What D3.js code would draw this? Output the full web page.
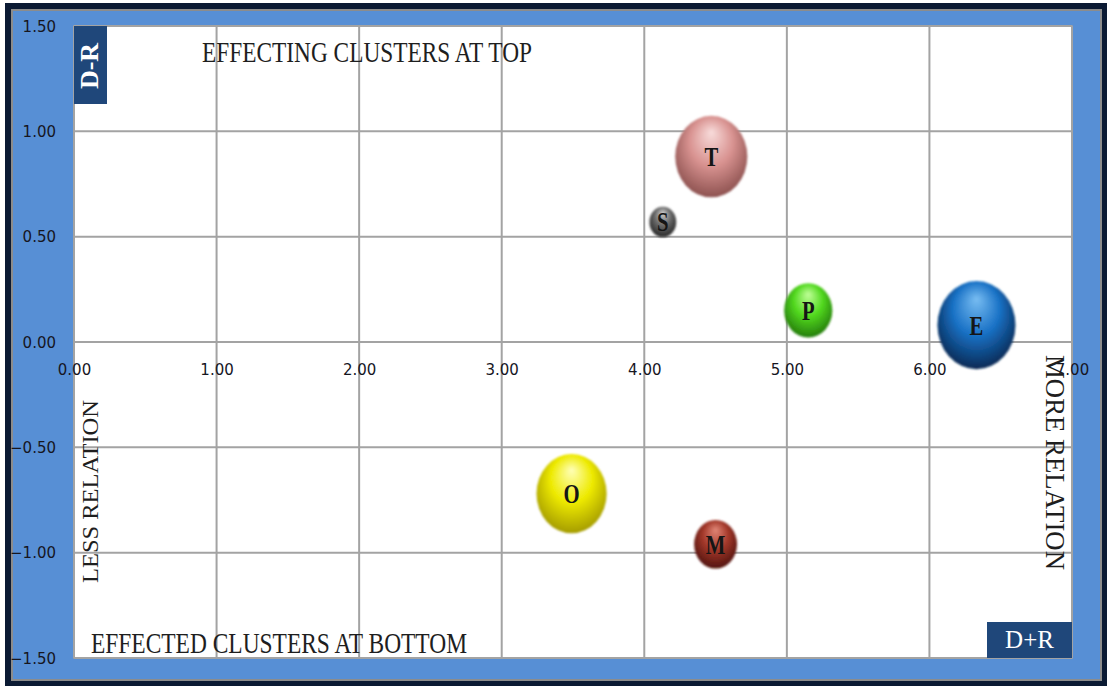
<!DOCTYPE html>
<html><head><meta charset="utf-8">
<script src="https://cdn.jsdelivr.net/npm/d3@7"></script>
<style>html,body{margin:0;padding:0;background:#fff;}svg{display:block;}</style>
</head><body>
<script>
// ---- data ----
const clusters = ["T", "S", "P", "E", "O", "M"];
const dPlusR  = [4.47, 4.13, 5.15, 6.33, 3.49, 4.50];
const dMinusR = [0.88, 0.57, 0.15, 0.08, -0.72, -0.96];
const bubbleSize = [1.30, 0.18, 0.58, 1.52, 1.23, 0.46];
const xTicks = [0, 1, 2, 3, 4, 5, 6, 7];
const yTicks = [-1.5, -1.0, -0.5, 0, 0.5, 1.0, 1.5];
const topNote = "EFFECTING CLUSTERS AT TOP";
const bottomNote = "EFFECTED CLUSTERS AT BOTTOM";
const leftNote = "LESS RELATION";
const rightNote = "MORE RELATION";
const yAxisTitle = "D-R";
const xAxisTitle = "D+R";

// ---- styles ----
const palette = {
  T: ["#f8dcdb", "#d99391", "#8a4f4d"],
  S: ["#d0d0d0", "#6a6a6a", "#262626"],
  P: ["#c0ff98", "#52d91f", "#22780a"],
  E: ["#78bdf2", "#1a72c6", "#06264f"],
  O: ["#ffffb8", "#eeea00", "#a19800"],
  M: ["#e08676", "#a3382a", "#4e120d"]
};

const W = 1107, H = 686;
const svg = d3.select("body").append("svg").attr("width", W).attr("height", H);
const defs = svg.append("defs");

// frame
svg.append("rect").attr("x", 0).attr("y", 0).attr("width", W).attr("height", H).attr("fill", "#fff");
svg.append("rect").attr("x", 5).attr("y", 3).attr("width", W - 5).attr("height", H - 3).attr("fill", "#0b1a33");
svg.append("rect").attr("x", 12).attr("y", 10).attr("width", 1089).attr("height", 670)
  .attr("fill", "#578fd5").attr("stroke", "#8c8c8c").attr("stroke-width", 2);

const x = d3.scaleLinear().domain([0, 7]).range([74, 1072]);
const y = d3.scaleLinear().domain([-1.5, 1.5]).range([658, 26]);
const r = d3.scaleSqrt().domain([0, d3.max(bubbleSize)]).range([0, 39]);

// plot area
svg.append("rect").attr("x", x(0)).attr("y", y(1.5)).attr("width", x(7) - x(0)).attr("height", y(-1.5) - y(1.5))
  .attr("fill", "#fff").attr("stroke", "#a3a3a3").attr("stroke-width", 1.5);

const grid = svg.append("g").attr("stroke", "#a3a3a3").attr("stroke-width", 2);
grid.selectAll("line.h").data(yTicks).join("line").attr("class", "h")
  .attr("x1", x(0)).attr("x2", x(7)).attr("y1", d => y(d)).attr("y2", d => y(d));
grid.selectAll("line.v").data(xTicks).join("line").attr("class", "v")
  .attr("y1", y(1.5)).attr("y2", y(-1.5)).attr("x1", d => x(d)).attr("x2", d => x(d));

// axes via d3 axis generators (lines hidden, labels kept)
const fmt = d3.format(".2f");
const tickFont = "DejaVu Sans, Verdana, sans-serif";
const yAxis = svg.append("g").attr("transform", `translate(${x(0) - 18},0)`)
  .call(d3.axisLeft(y).tickValues(yTicks).tickFormat(fmt).tickSize(0).tickPadding(0));
yAxis.select(".domain").remove();
yAxis.selectAll("text").attr("font-family", tickFont).attr("font-size", 15)
  .attr("fill", "#16161f").attr("dy", "0.35em");

const xAxis = svg.append("g").attr("transform", `translate(0,${y(0) + 22})`)
  .call(d3.axisBottom(x).tickValues(xTicks).tickFormat(fmt).tickSize(0).tickPadding(0));
xAxis.select(".domain").remove();
xAxis.selectAll("text").attr("font-family", tickFont).attr("font-size", 15)
  .attr("fill", "#16161f").attr("dy", "0.71em");

const serif = "Liberation Serif, Times New Roman, serif";

// notes
svg.append("text").attr("x", 202).attr("y", 62).attr("font-family", serif).attr("font-size", 30)
  .attr("fill", "#1e1e1e").attr("textLength", 330).attr("lengthAdjust", "spacingAndGlyphs").text(topNote);
svg.append("text").attr("x", 91).attr("y", 653).attr("font-family", serif).attr("font-size", 30)
  .attr("fill", "#1e1e1e").attr("textLength", 376).attr("lengthAdjust", "spacingAndGlyphs").text(bottomNote);
svg.append("text").attr("transform", "translate(98,583) rotate(-90)").attr("font-family", serif).attr("font-size", 24)
  .attr("fill", "#1e1e1e").attr("textLength", 183).attr("lengthAdjust", "spacingAndGlyphs").text(leftNote);
svg.append("text").attr("transform", "translate(1046,355) rotate(90)").attr("font-family", serif).attr("font-size", 27)
  .attr("fill", "#1e1e1e").attr("textLength", 215).attr("lengthAdjust", "spacingAndGlyphs").text(rightNote);

// axis title boxes
svg.append("rect").attr("x", x(0)).attr("y", y(1.5)).attr("width", 33).attr("height", 78).attr("fill", "#1f477a");
svg.append("text").attr("transform", `translate(${x(0) + 24},${y(1.5) + 40}) rotate(-90)`)
  .attr("text-anchor", "middle").attr("font-family", serif).attr("font-weight", "bold").attr("font-size", 26)
  .attr("fill", "#fff").text(yAxisTitle);
svg.append("rect").attr("x", 987).attr("y", 622).attr("width", x(7) - 987).attr("height", y(-1.5) - 622).attr("fill", "#1f477a");
svg.append("text").attr("x", (987 + x(7)) / 2).attr("y", 648).attr("text-anchor", "middle")
  .attr("font-family", serif).attr("font-size", 25).attr("fill", "#fff").text(xAxisTitle);

// bubbles
const data = clusters.map((c, i) => ({ c, x: dPlusR[i], y: dMinusR[i], s: bubbleSize[i] }));
data.forEach(d => {
  const g = defs.append("radialGradient").attr("id", "g" + d.c)
    .attr("cx", "50%").attr("cy", "42%").attr("r", "60%").attr("fx", "50%").attr("fy", "20%");
  const p = palette[d.c];
  g.append("stop").attr("offset", "0%").attr("stop-color", p[0]);
  g.append("stop").attr("offset", "50%").attr("stop-color", p[1]);
  g.append("stop").attr("offset", "100%").attr("stop-color", p[2]);
});
const blur = defs.append("filter").attr("id", "soft").attr("x", "-10%").attr("y", "-10%").attr("width", "120%").attr("height", "120%");
blur.append("feGaussianBlur").attr("stdDeviation", 0.8);

const bub = svg.append("g").selectAll("g").data(data).join("g")
  .attr("transform", d => `translate(${x(d.x)},${y(d.y)})`);
bub.append("ellipse").attr("rx", d => r(d.s)).attr("ry", d => r(d.s) * 1.13)
  .attr("fill", d => `url(#g${d.c})`).attr("filter", "url(#soft)");
bub.append("text").attr("transform", "scale(0.74,1)").attr("text-anchor", "middle").attr("dy", "0.34em")
  .attr("font-family", serif).attr("font-weight", "bold").attr("font-size", 28).attr("fill", "#151515")
  .text(d => d.c);
</script>
</body></html>
